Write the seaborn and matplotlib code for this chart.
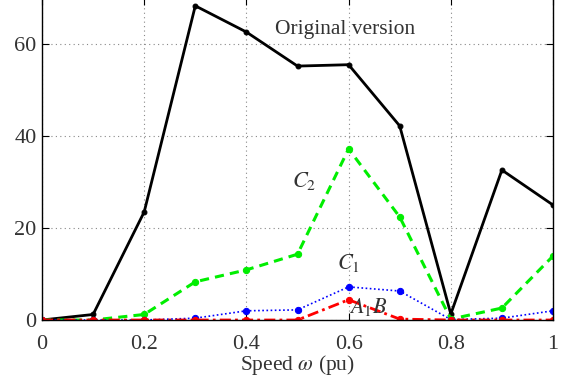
import matplotlib
matplotlib.use("Agg")
import matplotlib.pyplot as plt
import seaborn as sns
import numpy as np

speed = [0, 0.1, 0.2, 0.3, 0.4, 0.5, 0.6, 0.7, 0.8, 0.9, 1.0]
original = [0, 1.2, 23.5, 68.3, 62.6, 55.2, 55.5, 42.2, 1.3, 32.6, 25.0]
c2 = [0, 0, 1.2, 8.3, 10.9, 14.3, 37.2, 22.4, 0.2, 2.6, 13.9]
c1 = [0, 0, 0, 0.4, 2.0, 2.2, 7.2, 6.3, 0.1, 0.4, 2.0]
a1b = [0, 0, 0, 0, 0, 0, 4.4, 0.2, 0, 0, 0]

sns.set_style("ticks")
plt.rcParams['font.family'] = ['Liberation Serif', 'DejaVu Serif']
plt.rcParams['mathtext.fontset'] = 'stix'

fig = plt.figure(figsize=(5.68, 3.81), dpi=100)
ax = fig.add_axes([42/568, 61/381, 511/568, 322/381])

sns.lineplot(x=speed, y=original, ax=ax, color='black', lw=2.0, marker='o', ms=3.5, mec='black')
sns.lineplot(x=speed, y=c2, ax=ax, color='#00ee00', lw=2.2, ls=(0, (3, 2)), marker='o', ms=4.5, mec='#00ee00')
sns.lineplot(x=speed, y=c1, ax=ax, color='blue', lw=1.2, ls=(0, (1, 1.5)), marker='o', ms=4.5, mec='blue')
sns.lineplot(x=speed, y=a1b, ax=ax, color='red', lw=2.0, ls=(0, (4, 1.5, 1, 1.5)), marker='o', ms=4.5, mec='red')

ax.set_xlim(0, 1)
ax.set_ylim(0, 70)
ax.set_xticks([0, 0.2, 0.4, 0.6, 0.8, 1.0])
ax.set_xticklabels(['0', '0.2', '0.4', '0.6', '0.8', '1'])
ax.set_yticks([0, 20, 40, 60])
ax.grid(True, ls=(0, (1, 3)), color='#888888', lw=0.8)
ax.tick_params(direction='in', top=True, right=True, labelsize=16, length=5, colors='black', labelcolor='#333333')
ax.tick_params(axis='x', pad=11)
ax.tick_params(axis='y', pad=4)
for s in ax.spines.values():
    s.set_linewidth(1.0)
    s.set_color('black')
ax.set_xlabel(r'Speed $\omega$ (pu)', fontsize=15.5, color='#333333', labelpad=-1)

ax.text(0.593, 63.2, 'Original version', fontsize=15.5, ha='center', va='center', color='#333333')
ax.text(0.513, 30.2, r'$C_2$', fontsize=16, ha='center', va='center', color='#333333')
ax.text(0.60, 12.4, r'$C_1$', fontsize=16, ha='center', va='center', color='#333333')
ax.text(0.638, 2.8, r'$A_1B$', fontsize=16, ha='center', va='center', color='#333333')

fig.savefig('out.png', dpi=100)
